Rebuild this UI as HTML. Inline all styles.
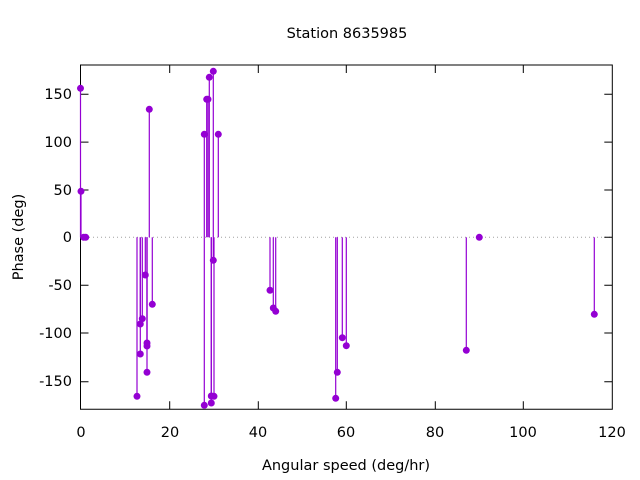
<!DOCTYPE html>
<html><head><meta charset="utf-8"><style>body{margin:0;background:#fff}svg{display:block}</style></head>
<body>
<svg width="640" height="480" xmlns="http://www.w3.org/2000/svg" font-family="DejaVu Sans, Liberation Sans, sans-serif" font-size="14.5">
<rect width="640" height="480" fill="#fff"/>
<line x1="81" y1="237.3" x2="612" y2="237.3" stroke="#a0a0a0" stroke-width="1" stroke-dasharray="1,3"/>
<g stroke="#000" stroke-width="1">
<path d="M80.5 65 H612.3 V409.3 H80.5 Z" fill="none"/>
<path d="M80.5 94.3h8M80.5 142.1h8M80.5 190h8M80.5 237.3h8M80.5 285.2h8M80.5 333h8M80.5 381.7h8
M612.3 94.3h-8M612.3 142.1h-8M612.3 190h-8M612.3 237.3h-8M612.3 285.2h-8M612.3 333h-8M612.3 381.7h-8
M169.7 409.3v-8M258.3 409.3v-8M346.3 409.3v-8M435.3 409.3v-8M523.3 409.3v-8
M169.7 65v8M258.3 65v8M346.3 65v8M435.3 65v8M523.3 65v8"/>
</g>
<g fill="#000" text-anchor="end">
<text x="72" y="99">150</text><text x="72" y="147">100</text><text x="72" y="195">50</text><text x="72" y="242">0</text><text x="72" y="290">-50</text><text x="72" y="338">-100</text><text x="72" y="386">-150</text>
</g>
<g fill="#000" text-anchor="middle">
<text x="81" y="437">0</text><text x="170" y="437">20</text><text x="258" y="437">40</text><text x="346" y="437">60</text><text x="435" y="437">80</text><text x="523" y="437">100</text><text x="612" y="437">120</text>
<text x="347" y="38">Station 8635985</text>
<text x="346" y="470">Angular speed (deg/hr)</text>
<text transform="translate(23,237) rotate(-90)">Phase (deg)</text>
</g>
<g stroke="#9400d3" stroke-width="1.2" id="imp"></g>
<g fill="#9400d3" id="pts"></g>
<script>
var P=[[80.5,88.3],[81,191.3],[83.7,237.3],[85.7,237.3],[137,396.3],[140.3,324],[140.3,354],[142.3,318.7],[145.3,275],[147,343],[147,346],[147,372.3],[149.3,109.3],[152.3,304.3],[204.3,134.3],[204.3,405.3],[206.7,99.3],[208,99.3],[209.3,77.3],[211.3,396],[211.3,403],[213.3,71.3],[213.3,260.3],[214,396.3],[218.3,134.3],[270,290.3],[273.3,308],[275.7,311.3],[335.7,398.3],[337.3,372.3],[342.3,337.7],[346.3,345.7],[466.3,350.3],[479.3,237.3],[594.3,314.3]];
var ns="http://www.w3.org/2000/svg",gi=document.getElementById("imp"),gp=document.getElementById("pts");
P.forEach(function(p){var l=document.createElementNS(ns,"line");l.setAttribute("x1",p[0]);l.setAttribute("x2",p[0]);l.setAttribute("y1",237.3);l.setAttribute("y2",p[1]);gi.appendChild(l);
var c=document.createElementNS(ns,"circle");c.setAttribute("cx",p[0]);c.setAttribute("cy",p[1]);c.setAttribute("r",3.5);gp.appendChild(c);});
</script>
</svg>
</body></html>
